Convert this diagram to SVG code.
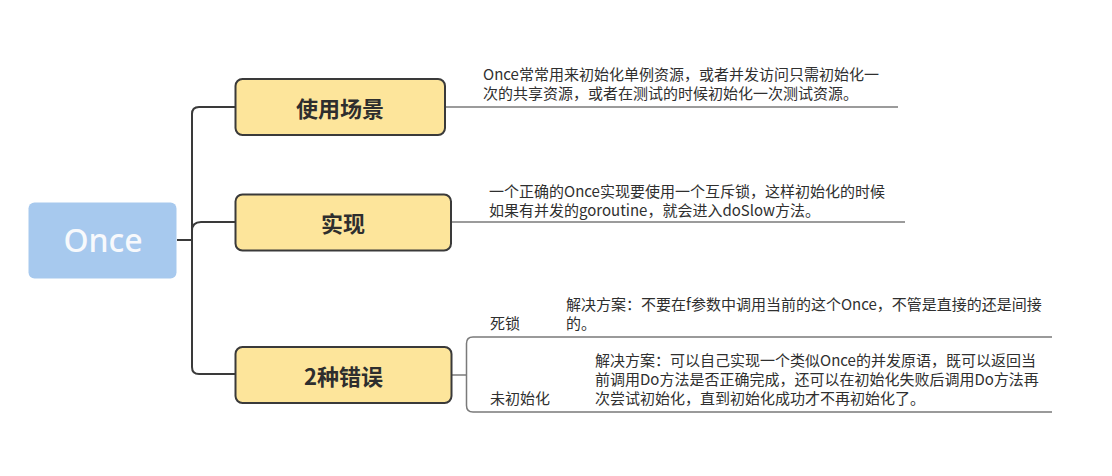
<svg xmlns="http://www.w3.org/2000/svg" width="1112" height="476" viewBox="0 0 1112 476">
<style>
.main{fill:#fde59b;stroke:#3a3a3a;stroke-width:2}
.mt{font-family:"Noto Sans CJK SC","Noto Sans",sans-serif;font-weight:bold;font-size:22px;fill:#2e2e2e;text-anchor:middle;dominant-baseline:central}
.d{font-family:"Noto Sans CJK SC","Noto Sans",sans-serif;font-size:15px;fill:#2f2f2f}
.trunk{fill:none;stroke:#3a3a3a;stroke-width:2}
.sub{fill:none;stroke:#7a7a7a;stroke-width:1.5}
</style>
<rect width="1112" height="476" fill="#fff"/>
<g id="connectors">
<path class="trunk" d="M177,240 H192"/>
<path class="trunk" d="M236,107 H199 Q192,107 192,114 V367 Q192,374 199,374 H236"/>
<path class="trunk" d="M192,231 Q192,222 201,222 H236"/>
<path class="sub" d="M445,107 H898"/>
<path class="sub" d="M451,222 H905"/>
<path class="sub" d="M452,375 H466.5"/>
<path class="sub" d="M1052,337 H473 Q466.5,337 466.5,343.5 V405.5 Q466.5,412 473,412 H1052"/>
</g>
<g id="once">
<rect x="28.5" y="202.5" width="148" height="76" rx="6" fill="#a7c9ee"/>
<text x="103" y="252" font-family="'Noto Sans',sans-serif" font-weight="500" font-size="32" fill="#f7f9fc" text-anchor="middle">Once</text>
</g>
<g id="scene">
<rect class="main" x="235.5" y="79" width="209.5" height="56" rx="7"/>
<text class="mt" x="340" y="107">使用场景</text>
</g>
<g id="impl">
<rect class="main" x="235.5" y="194.5" width="215.5" height="56" rx="7"/>
<text class="mt" x="343" y="222">实现</text>
</g>
<g id="errors">
<rect class="main" x="235.5" y="347" width="216" height="56" rx="7"/>
<text class="mt" x="343.5" y="375">2种错误</text>
</g>
<g id="scene-desc">
<text class="d" x="483" y="79.5">Once常常用来初始化单例资源，或者并发访问只需初始化一</text>
<text class="d" x="483" y="99">次的共享资源，或者在测试的时候初始化一次测试资源。</text>
</g>
<g id="impl-desc">
<text class="d" x="489" y="196.5">一个正确的Once实现要使用一个互斥锁，这样初始化的时候</text>
<text class="d" x="489" y="216">如果有并发的goroutine，就会进入doSlow方法。</text>
</g>
<g id="deadlock">
<text class="d" x="490" y="329">死锁</text>
<text class="d" x="566" y="310">解决方案：不要在f参数中调用当前的这个Once，不管是直接的还是间接</text>
<text class="d" x="566" y="329">的。</text>
</g>
<g id="uninit">
<text class="d" x="490" y="404">未初始化</text>
<text class="d" x="595" y="366">解决方案：可以自己实现一个类似Once的并发原语，既可以返回当</text>
<text class="d" x="595" y="385">前调用Do方法是否正确完成，还可以在初始化失败后调用Do方法再</text>
<text class="d" x="595" y="404">次尝试初始化，直到初始化成功才不再初始化了。</text>
</g>
</svg>
